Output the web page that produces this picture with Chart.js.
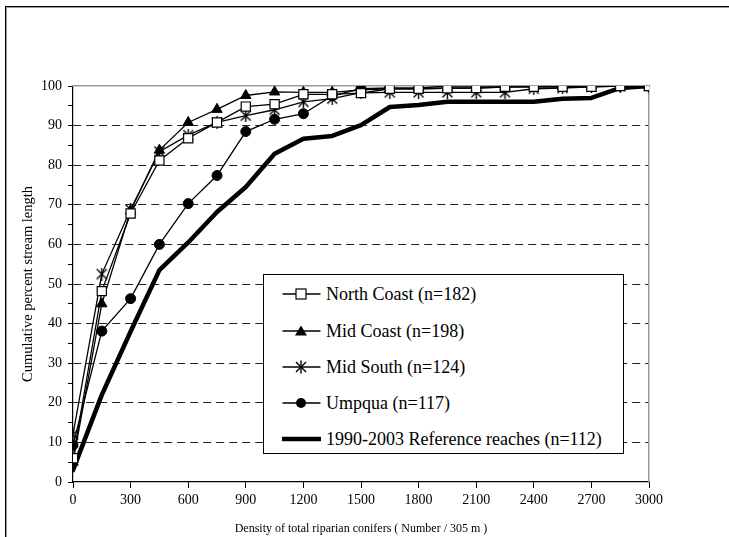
<!DOCTYPE html>
<html>
<head>
<meta charset="utf-8">
<script src="https://cdn.jsdelivr.net/npm/chart.js@4/dist/chart.umd.min.js"></script>
<style>
  html, body { margin: 0; padding: 0; background: #fff; overflow: hidden; }
  #wrap { position: relative; width: 729px; height: 537px; }
  #frame { position: absolute; left: 5px; top: 6px; width: 800px; height: 600px;
           border-left: 1px solid #000; border-top: 1px solid #000;
           box-shadow: inset 1px 1px 0 #999; }
  canvas { position: absolute; left: 0; top: 0; }
  #legend { position: absolute; left: 263px; top: 274px; width: 359px; height: 178px;
            border: 1px solid #000; background: #fff;
            font-family: "Liberation Serif", "Times New Roman", serif; font-size: 18px; color: #000; }
  .item { position: absolute; left: 18px; height: 20px; display: flex; align-items: center; white-space: nowrap; }
  .item svg { margin-right: 5px; }
</style>
</head>
<body>
<div id="wrap">
  <div id="frame"></div>
  <canvas id="c" width="729" height="537"></canvas>
  <div id="legend"></div>
</div>
<script>
// ---- data ----
const densities = [0, 150, 300, 450, 600, 750, 900, 1050, 1200, 1350, 1500, 1650, 1800, 1950, 2100, 2250, 2400, 2550, 2700, 2850, 3000];
const northCoast = [6.0, 48.2, 67.8, 81.2, 86.8, 90.8, 94.8, 95.4, 97.9, 97.9, 98.2, 99.3, 99.3, 99.4, 99.5, 99.8, 99.8, 99.8, 99.8, 100, 100];
const midCoast   = [5.0, 45.0, 68.5, 83.8, 90.8, 94.1, 97.6, 98.5, 98.4, 98.4, 99.0, 99.3, 99.3, 99.5, 99.5, 99.7, 99.8, 99.8, 100, 100, 100];
const midSouth   = [12.0, 52.5, 68.8, 83.4, 87.6, 90.8, 92.5, 94.0, 96.0, 96.8, 98.3, 98.4, 98.4, 98.4, 98.4, 98.4, 99.3, 99.5, 99.8, 100, 100];
const umpqua     = [9.3, 38.1, 46.3, 60.0, 70.3, 77.4, 88.5, 91.6, 93.0, 97.5, 99.3, 99.5, 99.5, 100, 100, 100, 100, 100, 100, 100, 100];
const reference  = [3.0, 22.0, 38.0, 53.5, 60.5, 68.2, 74.5, 82.9, 86.7, 87.4, 90.1, 94.7, 95.2, 96.0, 96.0, 96.0, 96.0, 96.8, 97.0, 99.5, 100];
const seriesLabels = ["North Coast (n=182)", "Mid Coast (n=198)", "Mid South (n=124)", "Umpqua (n=117)", "1990-2003 Reference reaches (n=112)"];
const xTitle = "Density of total riparian conifers ( Number / 305 m )";
const yTitle = "Cumulative percent stream length";

// asterisk marker (X with a vertical bar)
function makeStar() {
  const s = 13, cv = document.createElement('canvas');
  cv.width = s; cv.height = s;
  const g = cv.getContext('2d');
  g.strokeStyle = '#000'; g.lineWidth = 1.4;
  g.beginPath();
  g.moveTo(1.5, 1.5); g.lineTo(s - 1.5, s - 1.5);
  g.moveTo(s - 1.5, 1.5); g.lineTo(1.5, s - 1.5);
  g.moveTo(s / 2, 0); g.lineTo(s / 2, s);
  g.stroke();
  return cv;
}
const starImg = makeStar();

const toPts = arr => arr.map((v, i) => ({ x: densities[i], y: v }));
const serif = '"Liberation Serif", "Times New Roman", serif';

const datasets = [
  { label: seriesLabels[0], data: toPts(northCoast), borderColor: '#000', borderWidth: 1.3,
    pointStyle: 'rect', pointRadius: 6.5, pointBackgroundColor: '#fff', pointBorderColor: '#000', pointBorderWidth: 1.2 },
  { label: seriesLabels[1], data: toPts(midCoast), borderColor: '#000', borderWidth: 1.3,
    pointStyle: 'triangle', pointRadius: 6, pointBackgroundColor: '#000', pointBorderColor: '#000', pointBorderWidth: 1 },
  { label: seriesLabels[2], data: toPts(midSouth), borderColor: '#000', borderWidth: 1.3,
    pointStyle: starImg, pointRadius: 6, pointBackgroundColor: '#000', pointBorderColor: '#000' },
  { label: seriesLabels[3], data: toPts(umpqua), borderColor: '#000', borderWidth: 1.3,
    pointStyle: 'circle', pointRadius: 5, pointBackgroundColor: '#000', pointBorderColor: '#000', pointBorderWidth: 1 },
  { label: seriesLabels[4], data: toPts(reference), borderColor: '#000', borderWidth: 4.5,
    pointRadius: 0, borderJoinStyle: 'round', borderCapStyle: 'round' }
];

new Chart(document.getElementById('c'), {
  type: 'line',
  data: { datasets },
  options: {
    responsive: false,
    animation: false,
    devicePixelRatio: 1,
    layout: { padding: { top: 86, right: 80, left: 0, bottom: 0 } },
    plugins: { legend: { display: false }, tooltip: { enabled: false } },
    elements: { line: { tension: 0, fill: false } },
    scales: {
      x: {
        type: 'linear', position: 'bottom', min: 0, max: 3000,
        afterFit: s => { s.height = 55; },
        ticks: { stepSize: 300, color: '#000', padding: 4, maxRotation: 0,
                 font: { family: serif, size: 14 },
                 callback: v => String(v) },
        grid: { drawOnChartArea: false, drawTicks: true, tickLength: 6, color: '#000', tickWidth: 1 },
        border: { color: '#000', width: 1.2 },
        title: { display: true, text: xTitle, color: '#000', font: { family: serif, size: 12 },
                 padding: { top: 0, bottom: 1 } }
      },
      y: {
        type: 'linear', position: 'left', min: 0, max: 100,
        afterFit: s => { s.width = 73; },
        ticks: { stepSize: 5, color: '#000', padding: 6, autoSkip: false,
                 font: { family: serif, size: 14 },
                 callback: v => (v % 10 === 0 ? String(v) : '') },
        grid: {
          drawTicks: true, tickLength: 5, tickWidth: 1,
          color: ctx => (ctx.tick && ctx.tick.value % 10 === 0 && ctx.tick.value > 0 && ctx.tick.value < 100) ? '#222' : 'rgba(0,0,0,0)',
          tickColor: '#000', lineWidth: 1
        },
        border: { color: '#000', width: 1.2, dash: [8, 5] },
        title: { display: true, text: yTitle, color: '#000', font: { family: serif, size: 14.5 },
                 padding: { top: 19, bottom: 0 } }
      },
      xTop: {
        type: 'linear', position: 'top', min: 0, max: 3000,
        afterFit: s => { s.height = 0; },
        ticks: { display: false }, grid: { drawOnChartArea: false, drawTicks: false },
        border: { color: '#999', width: 1.5 }
      },
      yRight: {
        type: 'linear', position: 'right', min: 0, max: 100,
        afterFit: s => { s.width = 0; },
        ticks: { display: false }, grid: { drawOnChartArea: false, drawTicks: false },
        border: { color: '#999', width: 1.5 }
      }
    }
  }
});

// HTML legend
(function () {
  const lg = document.getElementById('legend');
  const tops = [9, 46, 82, 118, 154];
  const markers = [
    '<rect x="14" y="2" width="10" height="10" fill="#fff" stroke="#000" stroke-width="1.2"/>',
    '<polygon points="19,1.5 25,11.5 13,11.5" fill="#000"/>',
    '<g stroke="#000" stroke-width="1.4"><line x1="14" y1="2" x2="24" y2="12"/><line x1="24" y1="2" x2="14" y2="12"/><line x1="19" y1="0.5" x2="19" y2="13.5"/></g>',
    '<circle cx="19" cy="7" r="5" fill="#000"/>',
    ''
  ];
  seriesLabels.forEach((lab, i) => {
    const d = document.createElement('div');
    d.className = 'item';
    d.style.top = tops[i] + 'px';
    const lw = i === 4 ? 4.5 : 1.3;
    d.innerHTML = '<svg width="39" height="14" viewBox="0 0 39 14"><line x1="1" y1="7" x2="38" y2="7" stroke="#000" stroke-width="' + lw + '" stroke-linecap="round"/>' + markers[i] + '</svg><span>' + lab + '</span>';
    lg.appendChild(d);
  });
})();
</script>
</body>
</html>
